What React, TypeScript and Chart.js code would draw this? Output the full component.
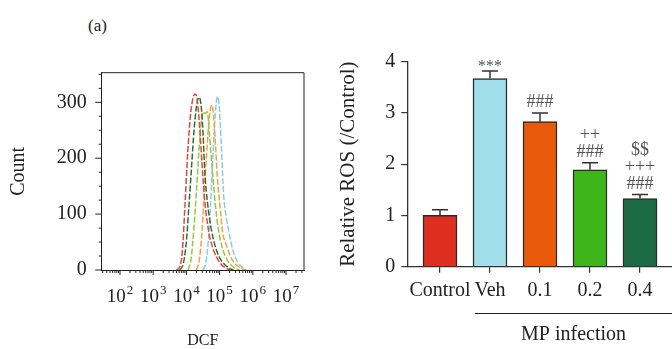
import React, { useEffect, useRef } from 'react';
import { Chart, registerables } from 'chart.js';
Chart.register(...registerables);

const SERIF = "'Liberation Serif', 'Times New Roman', Times, serif";
const INK = '#222';

// ---- Panel (a) left: DCF histograms, [log10(DCF), count]
const HIST_RED = [[3.70,0],[3.80,6],[3.88,35],[3.96,120],[4.04,210],[4.12,275],[4.20,308],[4.27,315],[4.33,302],[4.40,255],[4.47,190],[4.55,125],[4.64,80],[4.75,48],[4.90,24],[5.05,10],[5.20,3],[5.32,0]];
const HIST_DKGREEN = [[3.80,0],[3.90,10],[3.99,45],[4.07,110],[4.15,180],[4.23,250],[4.31,295],[4.38,309],[4.44,296],[4.50,245],[4.56,170],[4.64,118],[4.74,76],[4.86,44],[5.00,22],[5.15,10],[5.30,3],[5.42,0]];
const HIST_YGREEN = [[4.05,0],[4.14,20],[4.22,70],[4.30,140],[4.38,215],[4.45,268],[4.50,283],[4.56,280],[4.63,283],[4.69,245],[4.75,200],[4.81,158],[4.88,112],[4.96,74],[5.08,40],[5.25,16],[5.42,5],[5.60,0]];
const HIST_ORANGE = [[4.30,0],[4.38,15],[4.46,60],[4.53,130],[4.60,200],[4.67,260],[4.73,290],[4.77,295],[4.82,275],[4.88,220],[4.94,160],[5.01,115],[5.09,68],[5.20,45],[5.38,18],[5.52,8],[5.68,2],[5.78,0]];
const HIST_BLUE = [[4.50,0],[4.58,12],[4.65,45],[4.72,110],[4.78,180],[4.84,250],[4.90,300],[4.94,310],[4.99,292],[5.05,225],[5.12,135],[5.20,95],[5.29,65],[5.40,35],[5.55,14],[5.70,4],[5.82,0]];

const LOG_TICK_EXP = [2, 3, 4, 5, 6, 7];
const LOG_TICK_BASE = '10';
const COUNT_TICKS = [0, 100, 200, 300];

// ---- Panel right: relative ROS
const GROUPS = ['Control', 'Veh', '0.1', '0.2', '0.4'];
const ROS_MEAN = [1.0, 3.67, 2.83, 1.89, 1.33];
const ROS_SEM = [0.11, 0.15, 0.17, 0.14, 0.08];
const ROS_MARKS = [[], ['***'], ['###'], ['###', '++'], ['###', '+++', '$$']];
const ROS_TICKS = [0, 1, 2, 3, 4];
const GROUP_LABEL = 'MP infection';

const HIST_SERIES = [
  { data: HIST_RED, color: '#e8453c' },
  { data: HIST_DKGREEN, color: '#2f6f2f' },
  { data: HIST_YGREEN, color: '#94c93a' },
  { data: HIST_ORANGE, color: '#f5a043' },
  { data: HIST_BLUE, color: '#88cce6' },
];
const BAR_COLORS = ['#dd2e1f', '#a1e0ea', '#ea5a0c', '#3db51b', '#1d6b45'];

const histPlugin = {
  id: 'histFrame',
  afterDraw(chart: any) {
    const { ctx, chartArea: a, scales: { x, y } } = chart;
    ctx.save();
    ctx.strokeStyle = INK;
    ctx.lineWidth = 1;
    ctx.beginPath();
    ctx.moveTo(a.left, a.top);
    ctx.lineTo(a.right, a.top);
    ctx.lineTo(a.right, a.bottom);
    ctx.stroke();
    ctx.beginPath();
    for (let e = 1; e <= 7; e++) {
      for (let m = 1; m <= 9; m++) {
        const v = m * Math.pow(10, e);
        if (v < x.min || v > x.max) continue;
        const px = x.getPixelForValue(v);
        const len = m === 1 ? 5 : 3;
        ctx.moveTo(px, a.bottom);
        ctx.lineTo(px, a.bottom + len);
      }
    }
    for (let v = 0; v <= y.max; v += 25) {
      const py = y.getPixelForValue(v);
      const len = v % 100 === 0 ? 6.5 : 3;
      ctx.moveTo(a.left - len, py);
      ctx.lineTo(a.left, py);
    }
    ctx.stroke();
    // decade labels with real superscripts
    ctx.fillStyle = INK;
    ctx.textBaseline = 'alphabetic';
    ctx.textAlign = 'left';
    LOG_TICK_EXP.forEach((e) => {
      const px = x.getPixelForValue(Math.pow(10, e));
      ctx.font = `19px ${SERIF}`;
      const wb = ctx.measureText(LOG_TICK_BASE).width;
      ctx.font = `13px ${SERIF}`;
      const we = ctx.measureText(String(e)).width;
      const x0 = px - (wb + we + 1) / 2;
      ctx.font = `19px ${SERIF}`;
      ctx.fillText(LOG_TICK_BASE, x0, 302);
      ctx.font = `13px ${SERIF}`;
      ctx.fillText(String(e), x0 + wb + 1, 294);
    });
    ctx.restore();
  },
};

const rosPlugin = {
  id: 'rosExtras',
  afterDatasetsDraw(chart: any) {
    const { ctx, scales: { x, y } } = chart;
    ctx.save();
    ctx.strokeStyle = '#333';
    ctx.lineWidth = 1.5;
    ROS_MEAN.forEach((m, i) => {
      const px = x.getPixelForValue(i);
      const y0 = y.getPixelForValue(m);
      const y1 = y.getPixelForValue(m + ROS_SEM[i]);
      ctx.beginPath();
      ctx.moveTo(px, y0);
      ctx.lineTo(px, y1);
      ctx.moveTo(px - 8, y1);
      ctx.lineTo(px + 8, y1);
      ctx.stroke();
      ROS_MARKS[i].forEach((t, k) => {
        const star = /^\*+$/.test(t);
        ctx.font = `${star ? 16 : 18}px ${SERIF}`;
        ctx.fillStyle = '#555';
        ctx.textAlign = 'center';
        ctx.textBaseline = 'middle';
        const ty = y1 - 10.5 - k * 17 + (star ? 6 : 0);
        ctx.fillText(t, px, ty);
      });
    });
    ctx.restore();
  },
  afterDraw(chart: any) {
    const { ctx, chartArea: a, scales: { x } } = chart;
    const step = x.getPixelForValue(1) - x.getPixelForValue(0);
    const startX = x.getPixelForValue(1) - 0.3 * step;
    const endX = a.right;
    ctx.save();
    ctx.strokeStyle = INK;
    ctx.lineWidth = 1;
    ctx.beginPath();
    ctx.moveTo(startX, 313.5);
    ctx.lineTo(endX, 313.5);
    ctx.stroke();
    ctx.font = `20px ${SERIF}`;
    ctx.fillStyle = INK;
    ctx.textAlign = 'center';
    ctx.textBaseline = 'middle';
    ctx.fillText(GROUP_LABEL, (startX + endX) / 2, 335);
    ctx.restore();
  },
};

export default function App() {
  const leftRef = useRef<HTMLCanvasElement>(null);
  const rightRef = useRef<HTMLCanvasElement>(null);

  useEffect(() => {
    const left = new Chart(leftRef.current as HTMLCanvasElement, {
      type: 'line',
      data: {
        datasets: HIST_SERIES.map((s) => ({
          data: s.data.map(([l, c]) => ({ x: Math.pow(10, l), y: c })),
          borderColor: s.color,
          borderWidth: 1.5,
          borderDash: [6, 2],
          pointRadius: 0,
          fill: false,
          cubicInterpolationMode: 'monotone' as const,
        })),
      },
      options: {
        responsive: false,
        animation: false,
        devicePixelRatio: 1,
        layout: { padding: { top: 72.7, right: 16, left: 0, bottom: 0 } },
        plugins: { legend: { display: false }, tooltip: { enabled: false } },
        scales: {
          x: {
            type: 'logarithmic',
            min: 28.1,
            max: 3.48e7,
            afterBuildTicks: (s: any) => {
              s.ticks = LOG_TICK_EXP.map((e) => ({ value: Math.pow(10, e) }));
            },
            afterFit: (s: any) => { s.height = 79; },
            grid: { display: false, drawTicks: false },
            border: { display: true, color: INK, width: 1 },
            ticks: { display: false },
            title: {
              display: true,
              text: 'DCF',
              color: INK,
              font: { family: SERIF, size: 16, lineHeight: 1 },
              padding: { top: 0, bottom: 0 },
            },
          },
          y: {
            min: 0,
            max: 353,
            afterBuildTicks: (s: any) => {
              s.ticks = COUNT_TICKS.map((v) => ({ value: v }));
            },
            afterFit: (s: any) => { s.width = 101.7; },
            grid: { display: false, drawTicks: false },
            border: { display: true, color: INK, width: 1 },
            ticks: {
              padding: 15,
              color: INK,
              font: { family: SERIF, size: 20 },
            },
            title: {
              display: true,
              text: 'Count',
              color: INK,
              font: { family: SERIF, size: 20 },
              padding: { top: 6.5, bottom: 0 },
            },
          },
        },
      },
      plugins: [histPlugin],
    } as any);

    const right = new Chart(rightRef.current as HTMLCanvasElement, {
      type: 'bar',
      data: {
        datasets: [
          {
            data: ROS_MEAN.map((v, i) => ({ x: i, y: v })),
            backgroundColor: BAR_COLORS,
            borderColor: '#2a2a2a',
            borderWidth: 1.5,
            barThickness: 34,
          },
        ],
      },
      options: {
        responsive: false,
        animation: false,
        devicePixelRatio: 1,
        layout: { padding: { top: 61.7, right: 0, left: 0, bottom: 0 } },
        plugins: { legend: { display: false }, tooltip: { enabled: false } },
        scales: {
          x: {
            type: 'linear',
            min: -0.654,
            max: 4.64,
            offset: false,
            afterFit: (s: any) => { s.height = 82.3; },
            grid: { offset: false, drawOnChartArea: false, tickLength: 6, color: '#333', lineWidth: 1.2 },
            border: { display: true, color: '#333', width: 1.3 },
            ticks: {
              stepSize: 1,
              includeBounds: false,
              autoSkip: false,
              maxRotation: 0,
              padding: 6,
              color: INK,
              font: { family: SERIF, size: 20 },
              callback: (v: any) => (GROUPS[v] !== undefined ? GROUPS[v] : ''),
            },
          },
          y: {
            min: 0,
            max: 4,
            afterBuildTicks: (s: any) => {
              s.ticks = ROS_TICKS.map((v) => ({ value: v }));
            },
            afterFit: (s: any) => { s.width = 87.3; },
            grid: { drawOnChartArea: false, tickLength: 6, color: '#333', lineWidth: 1.2 },
            border: { display: true, color: '#333', width: 1.3 },
            ticks: {
              padding: 6,
              color: INK,
              font: { family: SERIF, size: 20 },
            },
            title: {
              display: true,
              text: 'Relative ROS (/Control)',
              color: INK,
              font: { family: SERIF, size: 21 },
              padding: { top: 15.7, bottom: 0 },
            },
          },
        },
      },
      plugins: [rosPlugin],
    } as any);

    return () => {
      left.destroy();
      right.destroy();
    };
  }, []);

  return (
    <div style={{ position: 'fixed', left: 0, top: 0, width: 672, height: 349, background: '#fff', overflow: 'hidden' }}>
      <div style={{ position: 'absolute', left: 88, top: 16, font: `17px ${SERIF}`, lineHeight: '20px', color: INK }}>(a)</div>
      <canvas ref={leftRef} width={320} height={349} style={{ position: 'absolute', left: 0, top: 0 }} />
      <canvas ref={rightRef} width={352} height={349} style={{ position: 'absolute', left: 320, top: 0 }} />
    </div>
  );
}
